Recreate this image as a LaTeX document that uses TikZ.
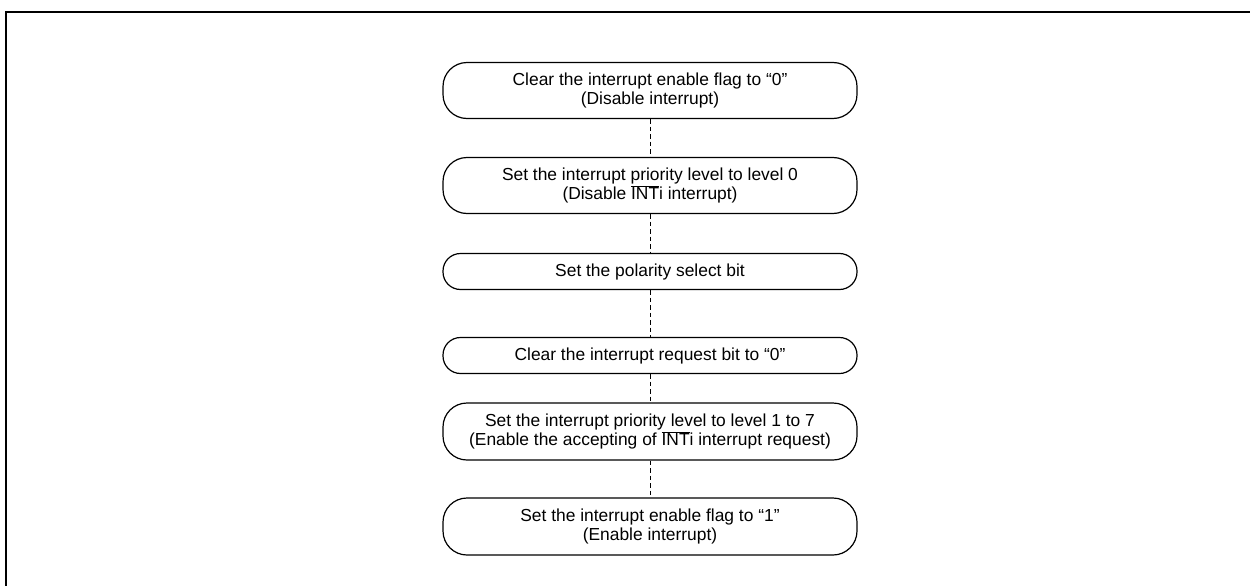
\documentclass[tikz,border=0pt]{standalone}
\usepackage{fontspec}
\setmainfont{Liberation Sans}
\newcommand{\intbar}{\ensuremath{\overline{\mbox{INT}}}}
\begin{document}
\begin{tikzpicture}[x=1pt,y=-1pt,
  stepbox/.style={draw,line width=1.2pt,rounded corners=24pt,minimum width=414pt,inner sep=0pt,align=center,font=\fontsize{17.4}{18.5}\selectfont},
  shortbox/.style={stepbox,rounded corners=17.5pt,minimum height=36pt},
  conn/.style={line width=1pt,dash pattern=on 4.5pt off 3pt}]
\useasboundingbox (0,0) rectangle (1250,586);
\draw[line width=2.5pt] (6,586) -- (6,12) -- (1250,12);
\node[stepbox,minimum height=56pt] (b1) at (650,90.5) {Clear the interrupt enable flag to “0”\\(Disable interrupt)};
\node[stepbox,minimum height=56pt] (b2) at (650,185.5) {Set the interrupt priority level to level 0\\(Disable \intbar i interrupt)};
\node[shortbox] (b3) at (650,271.5) {Set the polarity select bit};
\node[shortbox] (b4) at (650,355.5) {Clear the interrupt request bit to “0”};
\node[stepbox,minimum height=57pt] (b5) at (650,431.5) {Set the interrupt priority level to level 1 to 7\\(Enable the accepting of \intbar i interrupt request)};
\node[stepbox,minimum height=57pt] (b6) at (650,526.5) {Set the interrupt enable flag to “1”\\(Enable interrupt)};
\draw[conn] (b1) -- (b2);
\draw[conn] (b2) -- (b3);
\draw[conn] (b3) -- (b4);
\draw[conn] (b4) -- (b5);
\draw[conn] (b5) -- (b6);
\end{tikzpicture}
\end{document}
